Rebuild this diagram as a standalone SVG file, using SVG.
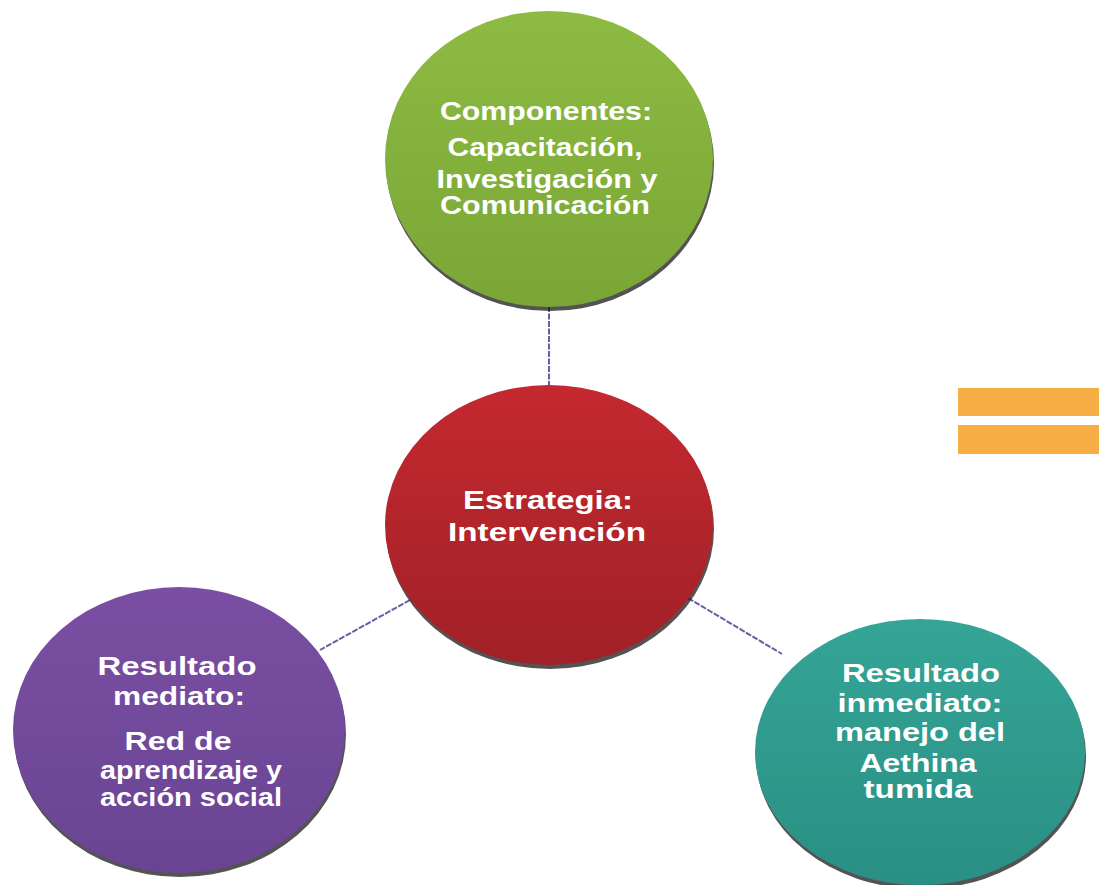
<svg xmlns="http://www.w3.org/2000/svg" width="1099" height="885" viewBox="0 0 1099 885">
<style>
.t{font-family:"Liberation Sans",Arial,sans-serif;font-weight:bold;font-size:25px;fill:#ffffff;text-anchor:middle}
.shadow{fill:#1a1a1a;opacity:0.75}
.conn{stroke:#6f5aa8;stroke-width:2;fill:none;stroke-dasharray:6 1.5}
</style>
<defs>
<linearGradient id="gG" x1="0" y1="0" x2="0" y2="1"><stop offset="0" stop-color="#8dbb42"/><stop offset="1" stop-color="#7aa636"/></linearGradient>
<linearGradient id="gR" x1="0" y1="0" x2="0" y2="1"><stop offset="0" stop-color="#c4292f"/><stop offset="1" stop-color="#a02127"/></linearGradient>
<linearGradient id="gP" x1="0" y1="0" x2="0" y2="1"><stop offset="0" stop-color="#7a4fa3"/><stop offset="1" stop-color="#6a4493"/></linearGradient>
<linearGradient id="gT" x1="0" y1="0" x2="0" y2="1"><stop offset="0" stop-color="#34a596"/><stop offset="1" stop-color="#2a8f84"/></linearGradient>
</defs>
<rect width="1099" height="885" fill="#ffffff"/>
<g id="connectors">
<line class="conn" x1="549" y1="306" x2="549" y2="396"/>
<line class="conn" x1="410" y1="600" x2="320" y2="650"/>
<line class="conn" x1="688" y1="598" x2="782" y2="654"/>
</g>
<g id="decor">
<rect x="958" y="388" width="141" height="28" fill="#f7ae45"/>
<rect x="958" y="425" width="141" height="29" fill="#f7ae45"/>
</g>
<g id="node-componentes">
<ellipse class="shadow" cx="550" cy="163" rx="164" ry="148"/>
<ellipse cx="549" cy="159" rx="164" ry="148" fill="url(#gG)"/>
<text class="t" x="546" y="120" textLength="212" lengthAdjust="spacingAndGlyphs">Componentes:</text>
<text class="t" x="545" y="156" textLength="195" lengthAdjust="spacingAndGlyphs">Capacitación,</text>
<text class="t" x="547" y="188" textLength="221" lengthAdjust="spacingAndGlyphs">Investigación y</text>
<text class="t" x="545" y="214" textLength="210" lengthAdjust="spacingAndGlyphs">Comunicación</text>
</g>
<g id="node-estrategia">
<ellipse class="shadow" cx="550" cy="529" rx="164" ry="140"/>
<ellipse cx="549" cy="525" rx="164" ry="140" fill="url(#gR)"/>
<text class="t" x="548" y="509" font-size="27" textLength="170" lengthAdjust="spacingAndGlyphs">Estrategia:</text>
<text class="t" x="547" y="541" font-size="27" textLength="198" lengthAdjust="spacingAndGlyphs">Intervención</text>
</g>
<g id="node-mediato">
<ellipse class="shadow" cx="180" cy="734" rx="166" ry="143"/>
<ellipse cx="179" cy="730" rx="166" ry="143" fill="url(#gP)"/>
<text class="t" x="177" y="675" textLength="159" lengthAdjust="spacingAndGlyphs">Resultado</text>
<text class="t" x="179" y="705" textLength="132" lengthAdjust="spacingAndGlyphs">mediato:</text>
<text class="t" x="178" y="750" textLength="107" lengthAdjust="spacingAndGlyphs">Red de</text>
<text class="t" x="191" y="779" textLength="182" lengthAdjust="spacingAndGlyphs">aprendizaje y</text>
<text class="t" x="191" y="806" textLength="182" lengthAdjust="spacingAndGlyphs">acción social</text>
</g>
<g id="node-inmediato">
<ellipse class="shadow" cx="921" cy="756" rx="165" ry="133"/>
<ellipse cx="920" cy="752" rx="165" ry="133" fill="url(#gT)"/>
<text class="t" x="921" y="682" textLength="158" lengthAdjust="spacingAndGlyphs">Resultado</text>
<text class="t" x="920" y="712" textLength="165" lengthAdjust="spacingAndGlyphs">inmediato:</text>
<text class="t" x="920" y="741" textLength="170" lengthAdjust="spacingAndGlyphs">manejo del</text>
<text class="t" x="918" y="772" textLength="117" lengthAdjust="spacingAndGlyphs">Aethina</text>
<text class="t" x="918" y="798" textLength="109" lengthAdjust="spacingAndGlyphs">tumida</text>
</g>
</svg>
